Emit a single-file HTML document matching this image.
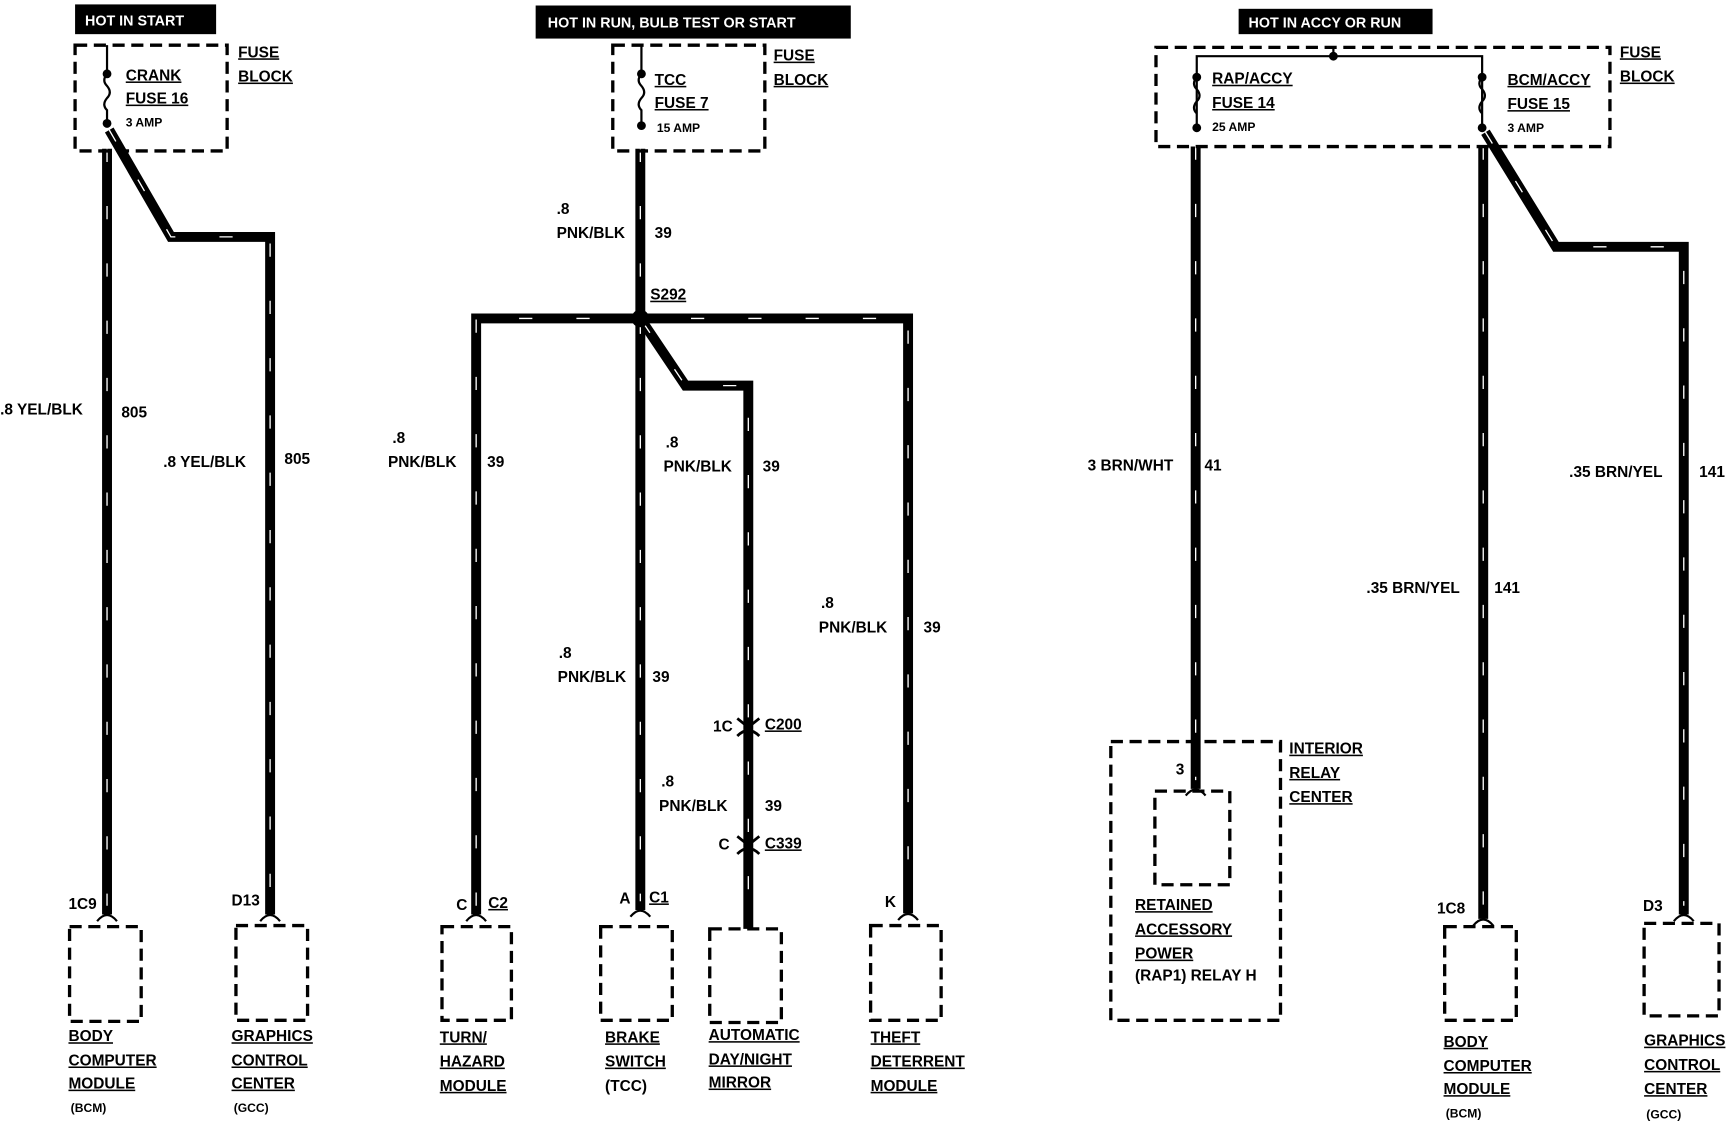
<!DOCTYPE html>
<html><head><meta charset="utf-8"><style>
html,body{margin:0;padding:0;background:#fff;}
svg{display:block}
text{font-family:"Liberation Sans Narrow","Liberation Sans",sans-serif;font-weight:bold;font-size:14px;fill:#000}
.u{text-decoration:underline}
.sm{font-size:11px}
.w{fill:none;stroke:#000;stroke-width:9;stroke-linejoin:miter}
.h{fill:none;stroke:#fff;stroke-width:1.2;stroke-dasharray:12 40}
.d{fill:none;stroke:#000;stroke-width:3;stroke-dasharray:11 6}
.t{fill:none;stroke:#000;stroke-width:2}
.hd text{fill:#fff;font-family:"Liberation Sans",sans-serif;font-size:13px}
</style></head><body>
<svg width="1728" height="1136" viewBox="0 0 1568 1031" xmlns="http://www.w3.org/2000/svg">
<g class="hd">
<rect x="68" y="4" width="128" height="27"/><text x="77" y="23">HOT IN START</text>
<rect x="486" y="5" width="286" height="30"/><text x="497" y="25">HOT IN RUN, BULB TEST OR START</text>
<rect x="1124" y="8" width="176" height="23"/><text x="1133" y="25">HOT IN ACCY OR RUN</text>
</g>

<g>
<polyline class="w" points="97,135 97,830"/>
<polyline class="w" points="99,118 155,215 245,215 245,830"/>
<polyline class="w" points="581,135 581,826"/>
<polyline class="w" points="432,830 432,289 824,289 824,829"/>
<polyline class="w" points="583,292 622,350 679,350 679,843"/>
<polyline class="w" points="1085,133 1085,716"/>
<polyline class="w" points="1346,133 1346,834"/>
<polyline class="w" points="1348,120 1412,224 1528,224 1528,830"/>
</g>
<g>
<polyline class="h" points="97,135 97,822"/>
<polyline class="h" points="99,118 155,215 245,215 245,822"/>
<polyline class="h" points="581,135 581,818"/>
<polyline class="h" points="432,822 432,289 824,289 824,820"/>
<polyline class="h" points="583,292 622,350 679,350 679,835"/>
<polyline class="h" points="1085,133 1085,708"/>
<polyline class="h" points="1346,133 1346,826"/>
<polyline class="h" points="1348,120 1412,224 1528,224 1528,822"/>
</g>
<circle cx="581" cy="289" r="8"/>

<rect class="d" x="68" y="41" width="138" height="96"/>
<path class="t" d="M97 41 V67 M97 67 q-5 6 0 11 q5 6 0 11 q-5 6 0 11 V112"/>
<circle cx="97" cy="67" r="4"/><circle cx="97" cy="112" r="4"/>
<text x="114" y="73" class="u">CRANK</text><text x="114" y="94" class="u">FUSE 16</text><text x="114" y="115" class="sm">3 AMP</text>
<text x="216" y="52" class="u">FUSE</text><text x="216" y="74" class="u">BLOCK</text>

<rect class="d" x="556" y="41" width="138" height="96"/>
<path class="t" d="M582 41 V67 q-5 6 0 11 q5 6 0 11 q-5 6 0 11 V114"/>
<circle cx="582" cy="67" r="4"/><circle cx="582" cy="114" r="4"/>
<text x="594" y="77" class="u">TCC</text><text x="594" y="98" class="u">FUSE 7</text><text x="596" y="120" class="sm">15 AMP</text>
<text x="702" y="55" class="u">FUSE</text><text x="702" y="77" class="u">BLOCK</text>

<rect class="d" x="1049" y="43" width="412" height="90"/>
<path class="t" d="M1210 43 V51 M1086 116 V51 H1345 V116"/>
<circle cx="1210" cy="51" r="4"/>
<path class="t" d="M1086 70 q-5 6 0 11 q5 6 0 11 q-5 6 0 11 M1345 70 q-5 6 0 11 q5 6 0 11 q-5 6 0 11"/>
<circle cx="1086" cy="70" r="4"/><circle cx="1086" cy="116" r="4"/><circle cx="1345" cy="70" r="4"/><circle cx="1345" cy="116" r="4"/>
<text x="1100" y="76" class="u">RAP/ACCY</text><text x="1100" y="98" class="u">FUSE 14</text><text x="1100" y="119" class="sm">25 AMP</text>
<text x="1368" y="77" class="u">BCM/ACCY</text><text x="1368" y="99" class="u">FUSE 15</text><text x="1368" y="120" class="sm">3 AMP</text>
<text x="1470" y="52" class="u">FUSE</text><text x="1470" y="74" class="u">BLOCK</text>

<text x="0" y="376">.8 YEL/BLK</text><text x="110" y="379">805</text>
<text x="148" y="424">.8 YEL/BLK</text><text x="258" y="421">805</text>
<text x="505" y="194">.8</text><text x="505" y="216">PNK/BLK</text><text x="594" y="216">39</text>
<text x="590" y="272" class="u">S292</text>
<text x="356" y="402">.8</text><text x="352" y="424">PNK/BLK</text><text x="442" y="424">39</text>
<text x="604" y="406">.8</text><text x="602" y="428">PNK/BLK</text><text x="692" y="428">39</text>
<text x="745" y="552">.8</text><text x="743" y="574">PNK/BLK</text><text x="838" y="574">39</text>
<text x="507" y="597">.8</text><text x="506" y="619">PNK/BLK</text><text x="592" y="619">39</text>
<text x="600" y="714">.8</text><text x="598" y="736">PNK/BLK</text><text x="694" y="736">39</text>
<text x="987" y="427">3 BRN/WHT</text><text x="1093" y="427">41</text>
<text x="1424" y="433">.35 BRN/YEL</text><text x="1542" y="433">141</text>
<text x="1240" y="538">.35 BRN/YEL</text><text x="1356" y="538">141</text>

<g stroke="#000" stroke-width="2.5" fill="none">
<path d="M669 652 l10 8 l10 -8"/><path d="M669 668 q10 -10 20 0"/>
<path d="M669 759 l10 8 l10 -8"/><path d="M669 775 q10 -10 20 0"/>
</g>
<text x="647" y="664">1C</text><text x="694" y="662" class="u">C200</text>
<text x="652" y="771">C</text><text x="694" y="770" class="u">C339</text>

<g class="t" stroke-width="3">
<path d="M88 836 q9 -11 18 0"/><path d="M236 836 q9 -11 18 0"/>
<path d="M423 836 q9 -11 18 0"/><path d="M572 832 q9 -11 18 0"/><path d="M815 835 q9 -11 18 0"/>
<path d="M1076 722 q9 -11 18 0"/><path d="M1337 840 q9 -11 18 0"/><path d="M1519 836 q9 -11 18 0"/>
</g>

<rect class="d" x="63" y="841" width="65" height="86"/>
<rect class="d" x="214" y="840" width="65" height="86"/>
<rect class="d" x="401" y="841" width="63" height="85"/>
<rect class="d" x="545" y="841" width="65" height="85"/>
<rect class="d" x="644" y="843" width="65" height="85"/>
<rect class="d" x="790" y="840" width="64" height="86"/>
<rect class="d" x="1008" y="673" width="154" height="253"/>
<rect class="d" x="1048" y="718" width="68" height="85"/>
<rect class="d" x="1311" y="841" width="65" height="85"/>
<rect class="d" x="1492" y="838" width="68" height="84"/>

<text x="62" y="825">1C9</text><text x="210" y="822">D13</text>
<text x="414" y="826">C</text><text x="443" y="824" class="u">C2</text>
<text x="562" y="820">A</text><text x="589" y="819" class="u">C1</text>
<text x="803" y="823">K</text>
<text x="1067" y="703">3</text>
<text x="1304" y="829">1C8</text><text x="1491" y="827">D3</text>

<text x="62" y="945" class="u">BODY</text><text x="62" y="967" class="u">COMPUTER</text><text x="62" y="988" class="u">MODULE</text><text x="64" y="1009" class="sm">(BCM)</text>
<text x="210" y="945" class="u">GRAPHICS</text><text x="210" y="967" class="u">CONTROL</text><text x="210" y="988" class="u">CENTER</text><text x="212" y="1009" class="sm">(GCC)</text>
<text x="399" y="946" class="u">TURN/</text><text x="399" y="968" class="u">HAZARD</text><text x="399" y="990" class="u">MODULE</text>
<text x="549" y="946" class="u">BRAKE</text><text x="549" y="968" class="u">SWITCH</text><text x="549" y="990">(TCC)</text>
<text x="643" y="944" class="u">AUTOMATIC</text><text x="643" y="966" class="u">DAY/NIGHT</text><text x="643" y="987" class="u">MIRROR</text>
<text x="790" y="946" class="u">THEFT</text><text x="790" y="968" class="u">DETERRENT</text><text x="790" y="990" class="u">MODULE</text>
<text x="1170" y="684" class="u">INTERIOR</text><text x="1170" y="706" class="u">RELAY</text><text x="1170" y="728" class="u">CENTER</text>
<text x="1030" y="826" class="u">RETAINED</text><text x="1030" y="848" class="u">ACCESSORY</text><text x="1030" y="870" class="u">POWER</text><text x="1030" y="890">(RAP1) RELAY H</text>
<text x="1310" y="950" class="u">BODY</text><text x="1310" y="972" class="u">COMPUTER</text><text x="1310" y="993" class="u">MODULE</text><text x="1312" y="1014" class="sm">(BCM)</text>
<text x="1492" y="949" class="u">GRAPHICS</text><text x="1492" y="971" class="u">CONTROL</text><text x="1492" y="993" class="u">CENTER</text><text x="1494" y="1015" class="sm">(GCC)</text>
</svg>
</body></html>
